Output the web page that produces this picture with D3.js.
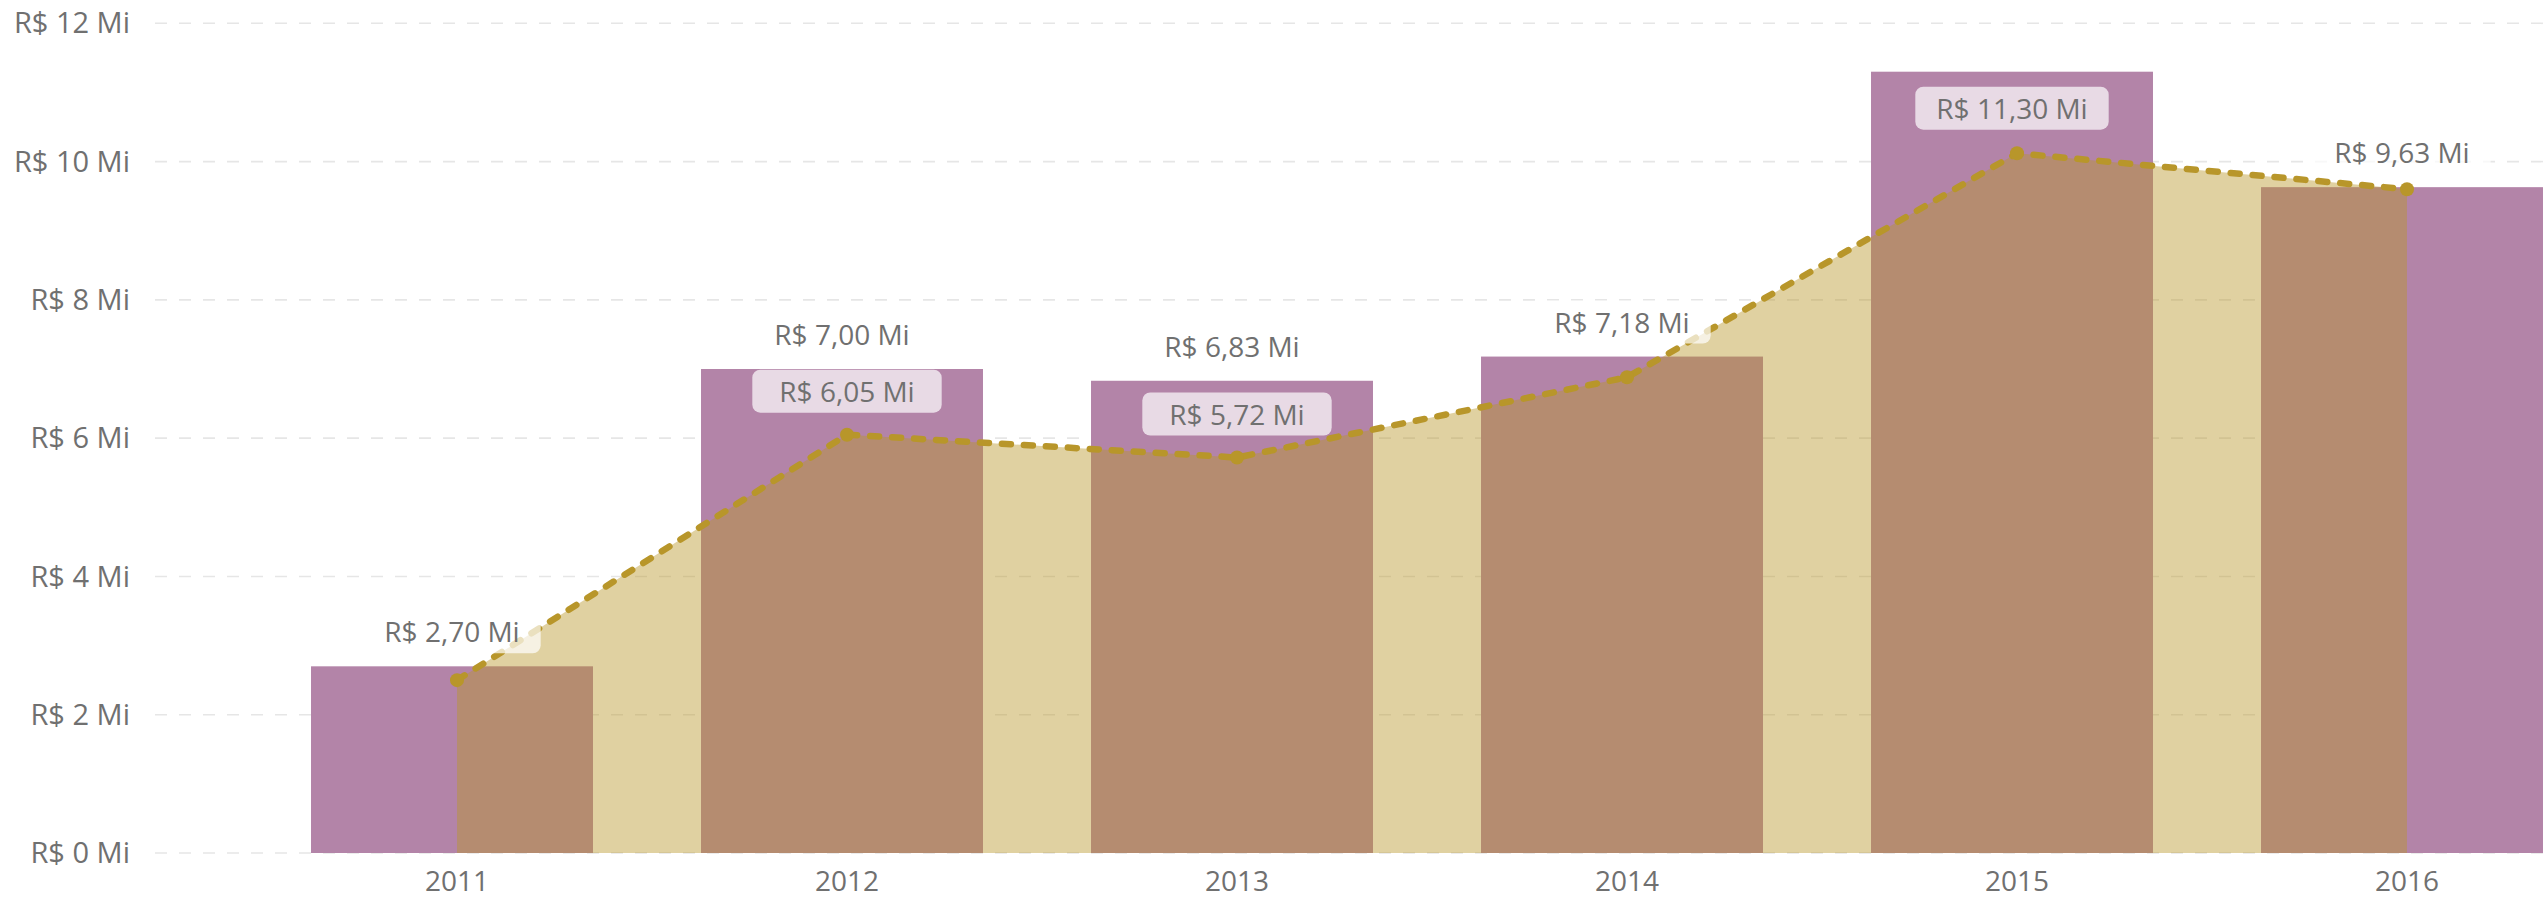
<!DOCTYPE html>
<html>
<head>
<meta charset="utf-8">
<script src="https://cdn.jsdelivr.net/npm/d3@7"></script>
<style>
  body { margin: 0; background: #fff; }
  svg { display: block; font-family: "Segoe UI", "Open Sans", sans-serif; }
</style>
</head>
<body>
<svg id="chart" width="2547" height="899"></svg>
<script>
// anos e valores (em milhões de R$)
const anos = ['2011', '2012', '2013', '2014', '2015', '2016'];
const receita = [2.70, 7.00, 6.83, 7.18, 11.30, 9.63];   // colunas
const meta = [2.50, 6.05, 5.72, 6.88, 10.12, 9.60];      // linha / área
const yTicks = [0, 2, 4, 6, 8, 10, 12];

const svg = d3.select('#chart');
const W = 2547;

const br = d3.formatLocale({decimal: ',', thousands: '.', grouping: [3], currency: ['R$ ', '']});
const fmtLabel = v => 'R$ ' + br.format('.2f')(v) + ' Mi';
const fmtTick = v => 'R$ ' + br.format('d')(v) + ' Mi';

const y = d3.scaleLinear().domain([0, 12]).range([853, 23.3]);
const x = d3.scalePoint().domain(anos).range([457, 2407]);
const barW = x.step() * 0.723;
const barShift = -5;   // colunas levemente à esquerda do centro da categoria

const colBar = '#b384a8';
const colLine = '#b8962a';
const colText = '#707070';

// grid
svg.append('g')
  .selectAll('line')
  .data(yTicks)
  .enter()
  .append('line')
    .attr('x1', 155).attr('x2', W)
    .attr('y1', d => y(d)).attr('y2', d => y(d))
    .style('stroke', '#e6e6e6')
    .style('stroke-width', 1.6)
    .style('stroke-dasharray', '12,12');

// eixo y (só rótulos)
svg.append('g')
  .selectAll('text')
  .data(yTicks)
  .enter()
  .append('text')
    .attr('x', 130)
    .attr('y', d => y(d))
    .attr('dy', '0.35em')
    .style('text-anchor', 'end')
    .style('font-size', '29px')
    .style('fill', colText)
    .text(fmtTick);

// colunas
svg.append('g')
  .selectAll('rect')
  .data(anos)
  .enter()
  .append('rect')
    .attr('x', (d, i) => x(d) + barShift - barW / 2)
    .attr('y', (d, i) => y(receita[i]))
    .attr('width', barW)
    .attr('height', (d, i) => y(0) - y(receita[i]))
    .style('fill', colBar);

// área sob a linha
const pts = anos.map((d, i) => [x(d), y(meta[i])]);
svg.append('path')
  .attr('d', d3.area().x(d => d[0]).y0(y(0)).y1(d => d[1])(pts))
  .style('fill', colLine)
  .style('opacity', 0.44);

svg.append('path')
  .attr('d', d3.line()(pts))
  .style('fill', 'none')
  .style('stroke', colLine)
  .style('stroke-width', 6.5)
  .style('stroke-linecap', 'round')
  .style('stroke-dasharray', '9,13');

svg.append('g')
  .selectAll('circle')
  .data(pts)
  .enter()
  .append('circle')
    .attr('cx', d => d[0]).attr('cy', d => d[1])
    .attr('r', 7)
    .style('fill', colLine);

// eixo x
svg.append('g')
  .selectAll('text')
  .data(anos)
  .enter()
  .append('text')
    .attr('x', d => x(d))
    .attr('y', 891)
    .style('text-anchor', 'middle')
    .style('font-size', '28px')
    .style('fill', colText)
    .text(d => d);

// rótulos de dados
const gLab = svg.append('g');
function label(cx, baseline, txt, pad) {
  const g = gLab.append('g');
  const rect = g.append('rect');
  const t = g.append('text')
    .attr('x', cx).attr('y', baseline)
    .style('text-anchor', 'middle')
    .style('font-size', '28px')
    .style('fill', colText)
    .text(txt);
  const w = t.node().getComputedTextLength() + pad * 2;
  const box = {x0: cx - w / 2, x1: cx + w / 2, y0: baseline - 32, y1: baseline + 11};
  rect.attr('x', box.x0).attr('y', box.y0)
    .attr('width', w).attr('height', box.y1 - box.y0)
    .attr('rx', 8)
    .style('fill', '#fff')
    .style('opacity', 0.7);
  return {g, box};
}
const overlap = (a, b) => a.x0 < b.x1 && b.x0 < a.x1 && a.y0 < b.y1 && b.y0 < a.y1;

const barBoxes = anos.map((d, i) => {
  const top = y(receita[i]);
  const inside = top - 56 < y(12);
  const base = inside ? top + 47 : top - 24;
  return label(x(d) + barShift, base, fmtLabel(receita[i]), 21).box;
});

anos.forEach((d, i) => {
  const l = label(x(d), y(meta[i]) - 33, fmtLabel(meta[i]), 27);
  if (barBoxes.some(b => overlap(b, l.box))) l.g.remove();
});
</script>
</body>
</html>
